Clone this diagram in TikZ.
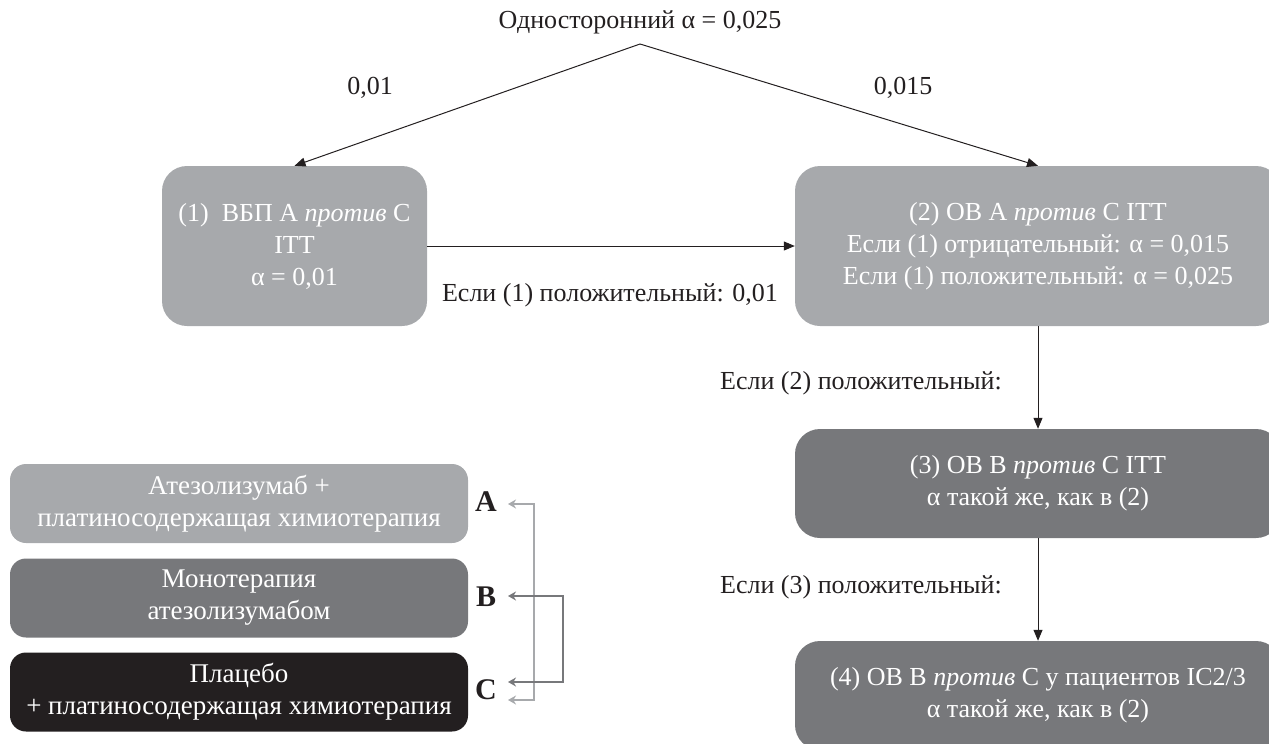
\documentclass[tikz,border=0pt]{standalone}
\usepackage{fontspec}
\setmainfont{Liberation Serif}
\usetikzlibrary{arrows.meta}
\definecolor{lgray}{HTML}{A7A9AC}
\definecolor{dgray}{HTML}{77787B}
\definecolor{blk}{HTML}{231F20}
\tikzset{
  txt/.style={text=blk, font=\fontsize{26}{32}\selectfont, inner sep=0pt},
  bigbox/.style={rectangle, rounded corners=25pt, text=white, align=center,
     font=\fontsize{26}{32}\selectfont, inner sep=0pt},
  legbox/.style={rectangle, rounded corners=16pt, text=white, align=center,
     font=\fontsize{27}{32}\selectfont, inner sep=0pt, minimum width=458pt, minimum height=79pt},
  conn/.style={draw=blk, line width=1pt, -{Triangle[length=11pt,width=9pt]}},
  lgl/.style={draw=lgray, line width=2pt, {Stealth[length=8pt,width=9pt]}-{Stealth[length=8pt,width=9pt]}},
  lgd/.style={draw=dgray, line width=2pt, {Stealth[length=8pt,width=9pt]}-{Stealth[length=8pt,width=9pt]}},
  letter/.style={text=blk, font=\fontsize{30}{32}\selectfont\bfseries, inner sep=0pt}
}
\begin{document}
\begin{tikzpicture}[x=1pt,y=-1pt]
\useasboundingbox (0,0) rectangle (1269,744);
% title
\node[txt] (title) at (640,22) {Односторонний α = 0,025};
\coordinate (apex) at (640,44);
% boxes
\node[bigbox, fill=lgray, minimum width=265pt, minimum height=160pt] (b1) at (294.5,246)
  {(1)\ \ ВБП А \textit{против} С\\ITT\\α = 0,01};
\node[bigbox, fill=lgray, minimum width=486pt, minimum height=160pt] (b2) at (1038,246)
  {(2) ОВ А \textit{против} С ITT\\Если (1) отрицательный: α = 0,015\\Если (1) положительный: α = 0,025};
\node[bigbox, fill=dgray, minimum width=486pt, minimum height=109pt] (b3) at (1038,483.5)
  {(3) ОВ В \textit{против} С ITT\\α такой же, как в (2)};
\node[bigbox, fill=dgray, minimum width=486pt, minimum height=109pt] (b4) at (1038,695.5)
  {(4) ОВ В \textit{против} С у пациентов IC2/3\\α такой же, как в (2)};
% connectors
\draw[conn] (apex) -- (b1.north);
\draw[conn] (apex) -- (b2.north);
\draw[conn] (b1.east) -- (b2.west);
\draw[conn] (b2.south) -- (b3.north);
\draw[conn] (b3.south) -- (b4.north);
% labels
\node[txt] (l1) at (370,88) {0,01};
\node[txt] (l2) at (903,88) {0,015};
\node[txt] (l3) at (610,295) {Если (1) положительный: 0,01};
\node[txt] (l4) at (861,383) {Если (2) положительный:};
\node[txt] (l5) at (861,587) {Если (3) положительный:};
% legend
\node[legbox, fill=lgray] (ga) at (239,503.5) {Атезолизумаб +\\платиносодержащая химиотерапия};
\node[legbox, fill=dgray] (gb) at (239,598) {Монотерапия\\атезолизумабом};
\node[legbox, fill=blk] (gc) at (239,692) {Плацебо\\+ платиносодержащая химиотерапия};
\node[letter] (la) at (486,502) {A};
\node[letter] (lb) at (486,597) {B};
\node[letter] (lc) at (486,690) {C};
\coordinate (ta) at (508,504);
\coordinate (tb) at (508,596);
\coordinate (tc1) at (508,682);
\coordinate (tc2) at (508,700);
\coordinate (va) at (534,504);
\coordinate (vc) at (534,700);
\coordinate (wb) at (563,596);
\coordinate (wc) at (563,682);
\draw[lgl] (ta) -- (va) -- (vc) -- (tc2);
\draw[lgd] (tb) -- (wb) -- (wc) -- (tc1);
\end{tikzpicture}
\end{document}
